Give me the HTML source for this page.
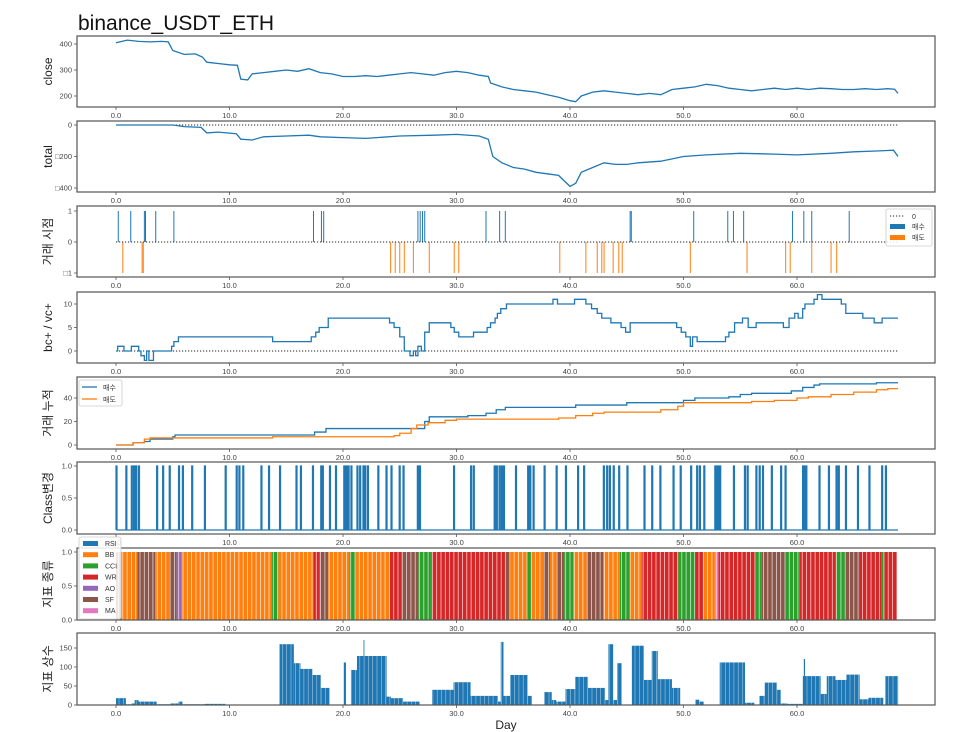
<!DOCTYPE html>
<html><head><meta charset="utf-8">
<style>
body{margin:0;background:#fff;}
svg{display:block;font-family:"Liberation Sans","Noto Sans CJK KR",sans-serif;}
</style></head>
<body>
<svg id="c" width="969" height="732" viewBox="0 0 969 732" xmlns="http://www.w3.org/2000/svg">
<text x="78" y="30" font-size="21" fill="#111">binance_USDT_ETH</text>
</svg>
<script>
// ---------- data ----------
const closeDays = [0,1,2,3,4,4.6,5,6,7,7.6,8,9,10,10.7,11,11.6,12,13,14,15,16,17,18,19,20,21,22,23,24,25,26,27,28,29,30,31,32,32.8,33,34,35,36,37,38,39,40,40.5,41,42,43,44,45,46,47,48,49,50,51,52,53,54,55,56,57,58,59,60,61,62,63,64,65,66,67,68,68.6,68.9];
const closeVals = [405,415,410,408,410,408,375,360,362,350,330,325,320,318,265,262,285,290,295,300,295,305,290,285,275,275,278,275,280,285,290,285,280,290,295,290,280,275,250,235,225,220,215,205,195,182,178,200,215,220,215,210,205,210,205,225,230,235,245,240,230,225,220,225,230,225,230,225,230,228,225,225,228,225,228,226,210];
const totalDays = [0,5,6,7.5,8,9,10.6,11,12,13,15,17,18,20,22,25,28,30,32,32.8,33.2,34,35,36,37,38,39,40,40.5,41,42,43,44,45,46,48,50,52,55,58,60,63,65,67,68.5,68.9];
const totalVals = [0,0,-10,-15,-50,-45,-55,-90,-95,-75,-70,-65,-75,-80,-85,-70,-65,-60,-70,-90,-200,-240,-270,-280,-300,-310,-320,-390,-370,-300,-270,-240,-250,-250,-240,-230,-200,-190,-180,-185,-190,-180,-170,-165,-160,-200];
const buyDays = [0.2,1.3,2.5,2.6,3.5,5.1,17.4,18.1,18.3,26.6,26.8,27.0,27.2,32.6,33.8,34.3,45.3,45.4,50.9,53.9,54.4,55.3,59.6,60.6,61.3,64.6];
const sellDays = [0.6,2.3,2.4,24.2,24.6,25.0,25.4,26.2,27.6,29.8,30.2,39.1,41.4,42.4,42.8,43.0,43.8,44.3,44.6,50.6,55.6,59.0,59.4,61.3,63.0,63.5];
const bcDays = [0,0.15,0.7,1.35,2.0,2.2,2.5,2.7,2.9,3.3,4.9,5.1,5.5,13.8,17.2,17.6,17.9,18.7,24.1,24.5,25.0,25.4,25.9,26.2,26.4,26.6,26.9,27.2,27.6,29.5,29.8,30.2,31.5,32.7,33.0,33.4,33.6,33.9,34.4,38.5,38.9,40.4,41.4,41.9,42.4,42.8,43.6,44.5,44.9,45.3,49.4,49.8,50.2,50.6,50.8,51.2,53.7,54.0,54.5,55.2,55.7,56.4,58.8,59.3,59.8,60.1,60.5,60.7,61.5,61.8,62.2,63.9,64.3,65.8,66.8,67.5,68.9];
const bcVals = [0,1,0,1,0,-1,-2,0,-2,0,1,2,3,2,3,4,5,7,6,5,3,0,-1,0,-1,1,0,4,6,5,4,3,4,5,6,7,8,9,10,11,10,11,10,9,8,7,6,5,4,6,5,4,3,1,3,2,3,4,6,7,5,6,5,7,8,7,9,10,11,12,11,10,8,7,6,7,7];
const cumBuyDays = [0,1.5,2.5,3,5,5.2,17.5,18.5,27.2,27.6,31,32.6,33.5,34.3,40.5,45,50,51,54,55,56,59.5,60.5,61.5,62,67,68.9];
const cumBuyVals = [0,2,3,5,7,8.5,11,14,20,24,25,27,30,32,34,36,38,40,41,43,44,46,49,51,52,53,53];
const cumSellDays = [0,1.5,2.5,3,13.8,24.5,25,26,26.5,27.5,29,30,39,40.5,42,43,48,49.5,50,56,58,60,61,63,65,67,68,68.9];
const cumSellVals = [0,2,5,6,7,8,10,14,17,19,21,22,23,25,27,28,30,33,36,37,38,40,41,43,45,47,48,48];
const classDays = [0,0.87,1.35,1.55,1.74,1.98,3.58,4.11,4.69,5.51,5.85,6.67,7.79,9.62,10.59,10.83,11.17,12.77,13.44,14.41,15.86,16.25,17.31,18.04,18.18,18.81,19.34,20.07,20.26,20.45,20.70,21.23,21.47,21.76,21.91,22.15,23.07,23.79,24.23,24.95,25.29,26.55,26.74,29.74,31.24,31.48,33.32,33.51,33.75,33.95,34.14,35.20,36.27,36.46,36.75,37.72,38.78,39.60,40.67,41.20,42.94,43.23,43.47,43.81,44.29,45.02,46.52,47.20,47.92,49.08,49.71,50.63,51.16,51.40,51.79,52.76,52.85,52.95,53.05,53.19,54.40,55.37,55.61,56.38,56.67,56.96,57.74,58.56,58.95,60.49,60.64,60.78,61.94,62.77,63.44,63.64,64.27,65.33,66.34,67.46,67.79];
const indStarts = [0,0.5,1.88,3.44,4.70,5.35,5.78,13.71,14.30,17.38,17.91,18.70,20.56,21.06,24.14,25.17,26.64,27.82,34.27,34.71,36.18,36.62,37.65,38.23,38.82,39.50,40.29,41.47,42.93,44.40,45.28,46.31,49.54,51.01,51.74,52.77,53.07,56.30,56.89,58.94,60.26,63.35,64.23,65.55,67.46,67.69,68.78];
const indTypes = ["SF","BB","SF","BB","SF","AO","BB","CCI","BB","WR","SF","BB","CCI","BB","WR","SF","CCI","WR","SF","BB","CCI","BB","SF","BB","SF","CCI","BB","SF","BB","CCI","BB","WR","CCI","WR","BB","MA","WR","CCI","SF","CCI","WR","CCI","SF","WR","CCI","WR"];
const indNames = ["RSI","BB","CCI","WR","AO","SF","MA"];
const indColors = ["#1f77b4","#ff7f0e","#2ca02c","#d62728","#9467bd","#8c564b","#e377c2"];
const paramStarts = [0,0.87,1.35,1.64,1.98,3.58,4.79,5.51,5.85,7.79,9.62,14.41,15.67,16.25,17.31,18.04,18.81,20.07,20.26,20.70,21.23,23.84,24.23,25.29,26.74,27.85,29.74,31.24,33.66,33.90,34.14,34.72,36.27,36.65,37.72,38.39,38.78,39.60,40.47,41.59,43.09,43.38,43.81,44.15,44.54,45.45,46.52,47.20,47.73,48.98,49.71,51.06,51.40,51.79,53.19,55.42,56.24,56.67,57.16,58.22,58.56,59.14,60.49,62.09,62.62,63.39,64.36,65.52,66.30,67.60,67.79,68.91];
const paramVals = [18,2,4,13,9,2,4,9,2,3,1,160,110,95,79,45,1,112,1,92,129,22,18,9,1,40,60,24,9,166,24,79,24,1,34,13,9,42,74,45,13,160,13,110,1,156,66,142,68,45,1,14,9,1,112,6,1,24,59,40,4,3,76,29,76,66,80,15,19,1,76];
const spikeDays = [21.8,60.6];
const spikeVals = [171,121];
const xTicks = [0,10,20,30,40,50,60];

// ---------- helpers ----------
const svg = document.getElementById('c');
const NS = 'http://www.w3.org/2000/svg';
function mk(tag, attrs, parent){const e=document.createElementNS(NS,tag);for(const k in attrs)e.setAttribute(k,attrs[k]);(parent||svg).appendChild(e);return e;}
const L=77,R=935;
const X = d => 116 + d*11.35;
function lin(v0,p0,v1,p1){return v=>p0+(v-v0)*(p1-p0)/(v1-v0);}
function stepPath(days, vals, Y){let d='M'+X(days[0])+','+Y(vals[0]);for(let i=1;i<days.length;i++){d+='H'+X(days[i])+'V'+Y(vals[i]);}return d;}
function linePath(days, vals, Y){return days.map((d,i)=>(i?'L':'M')+X(d).toFixed(1)+','+Y(vals[i]).toFixed(1)).join('');}

const panels = [
 {name:'close',top:36,bot:107,label:'close',Y:lin(400,44,200,96),ticks:[[400,'400'],[300,'300'],[200,'200']]},
 {name:'total',top:121,bot:192,label:'total',Y:lin(0,125,-400,188),ticks:[[0,'0'],[-200,'□200'],[-400,'□400']]},
 {name:'trade-points',top:206,bot:277,label:'거래 시점',Y:lin(1,211,0,242),ticks:[[1,'1'],[0,'0'],[-1,'□1']]},
 {name:'bc-vc',top:292,bot:363,label:'bc+ / vc+',Y:lin(10,304,0,351),ticks:[[10,'10'],[5,'5'],[0,'0']]},
 {name:'cumulative-trades',top:377,bot:449,label:'거래 누적',Y:lin(40,398,0,445),ticks:[[40,'40'],[20,'20'],[0,'0']]},
 {name:'class-change',top:462,bot:534,label:'Class변경',Y:lin(1,466,0,530),ticks:[[1,'1.0'],[0.5,'0.5'],[0,'0.0']]},
 {name:'indicator-type',top:548,bot:620,label:'지표 종류',Y:lin(1,552,0,620),ticks:[[1,'1.0'],[0.5,'0.5'],[0,'0.0']]},
 {name:'indicator-param',top:633,bot:705,label:'지표 상수',Y:lin(150,648,0,705),ticks:[[150,'150'],[100,'100'],[50,'50'],[0,'0']]}
];
panels.forEach(p=>{
  const g = mk('g',{});
  
  
  p.g=g;
});

const blue='#1f77b4', orange='#ff7f0e';
let P=panels[0];
let e=mk('path',{d:linePath(closeDays,closeVals,P.Y),fill:'none',stroke:blue,'stroke-width':1.3},P.g);



P=panels[1];
e=mk('line',{x1:X(0),x2:X(68.9),y1:P.Y(0),y2:P.Y(0),stroke:'#222','stroke-dasharray':'1.2,1.8','stroke-width':1},P.g);


e=mk('path',{d:linePath(totalDays,totalVals,P.Y),fill:'none',stroke:blue,'stroke-width':1.3},P.g);



P=panels[2];
buyDays.forEach(d=>{
  const l=mk('line',{x1:X(d),x2:X(d),y1:P.Y(0),y2:P.Y(1),stroke:blue,'stroke-width':1},P.g);
  
  
});
sellDays.forEach(d=>{
  const l=mk('line',{x1:X(d),x2:X(d),y1:P.Y(0),y2:P.Y(-1),stroke:orange,'stroke-width':1},P.g);
  
  
});
e=mk('line',{x1:X(0),x2:X(68.9),y1:P.Y(0),y2:P.Y(0),stroke:'#222','stroke-dasharray':'1.2,1.8','stroke-width':1},P.g);



P=panels[3];
e=mk('line',{x1:X(0),x2:X(68.9),y1:P.Y(0),y2:P.Y(0),stroke:'#222','stroke-dasharray':'1.2,1.8','stroke-width':1},P.g);


e=mk('path',{d:stepPath(bcDays,bcVals,P.Y),fill:'none',stroke:blue,'stroke-width':1.3},P.g);



P=panels[4];
e=mk('path',{d:stepPath(cumBuyDays,cumBuyVals,P.Y),fill:'none',stroke:blue,'stroke-width':1.3},P.g);


e=mk('path',{d:stepPath(cumSellDays,cumSellVals,P.Y),fill:'none',stroke:orange,'stroke-width':1.3},P.g);



P=panels[5];
{let d='M'+X(0)+','+P.Y(0);classDays.forEach(t=>{d+='L'+X(t)+','+P.Y(0)+'L'+X(t)+','+P.Y(1)+'L'+(X(t)+1)+','+P.Y(1)+'L'+(X(t)+1)+','+P.Y(0);});d+='L'+X(68.9)+','+P.Y(0);
e=mk('path',{d:d,fill:'none',stroke:blue,'stroke-width':1.2},P.g);

}

P=panels[6];
for(let i=0;i<indTypes.length;i++){
  const x0=X(indStarts[i]), x1=X(indStarts[i+1]);
  const r=mk('rect',{x:x0,y:P.Y(1),width:Math.max(0.5,x1-x0),height:P.Y(0)-P.Y(1),fill:indColors[indNames.indexOf(indTypes[i])]},P.g);
  
  
}
for(let x=X(0)+2.5;x<X(68.78);x+=4.3){
  mk('line',{x1:x.toFixed(1),x2:x.toFixed(1),y1:P.Y(1),y2:P.Y(0),stroke:'#fff','stroke-width':0.8,'stroke-opacity':0.75},P.g);
}

P=panels[7];
for(let i=0;i<paramVals.length;i++){
  const x0=X(paramStarts[i]), x1=X(paramStarts[i+1]);
  const r=mk('rect',{x:x0,y:P.Y(paramVals[i]),width:Math.max(0.5,x1-x0),height:P.Y(0)-P.Y(paramVals[i]),fill:blue},P.g);
  
  
}
spikeDays.forEach((d,i)=>{
  const r=mk('rect',{x:X(d),y:P.Y(spikeVals[i]),width:1.2,height:P.Y(0)-P.Y(spikeVals[i]),fill:blue},P.g);
  
  
});
for(let x=X(0)+3;x<X(68.9);x+=4.3){
  mk('line',{x1:x.toFixed(1),x2:x.toFixed(1),y1:P.Y(175),y2:P.Y(0),stroke:'#fff','stroke-width':0.6,'stroke-opacity':0.6},P.g);
}

panels.forEach(p=>{
  const f=mk('rect',{x:L,y:p.top,width:R-L,height:p.bot-p.top,fill:'none',stroke:'#555','stroke-width':1.2},p.g);
  
  
  p.ticks.forEach(t=>{
    const y=p.Y(t[0]);
    mk('line',{x1:L-3,x2:L,y1:y,y2:y,stroke:'#555','stroke-width':0.8},p.g);
    const tx=mk('text',{x:L-5,y:y+2.5,'font-size':7.5,fill:'#444','text-anchor':'end'},p.g);
    tx.textContent=t[1];
    
    
  });
  xTicks.forEach(t=>{
    const x=X(t);
    mk('line',{x1:x,x2:x,y1:p.bot,y2:p.bot+3,stroke:'#555','stroke-width':0.8},p.g);
    const tx=mk('text',{x:x,y:p.bot+11,'font-size':7.5,fill:'#444','text-anchor':'middle'},p.g);
    tx.textContent=t.toFixed(1);
    
    
  });
  const cy=(p.top+p.bot)/2;
  const yl=mk('text',{x:0,y:0,'font-size':12,fill:'#222','text-anchor':'middle',transform:`translate(52,${cy}) rotate(-90)`},p.g);
  yl.textContent=p.label;
  
  
});
e=mk('text',{x:506,y:729,'font-size':12,fill:'#222','text-anchor':'middle'});
e.textContent='Day';



{const g=mk('g',{});


mk('rect',{x:886,y:209,width:46,height:37,fill:'#fff','fill-opacity':0.85,stroke:'#ccc','stroke-width':0.8,rx:2},g);
mk('line',{x1:890,x2:905,y1:216,y2:216,stroke:'#222','stroke-dasharray':'1.2,1.8'},g);
let t=mk('text',{x:912,y:219,'font-size':7,fill:'#333'},g);t.textContent='0';
mk('rect',{x:890,y:224,width:15,height:5,fill:blue},g);
t=mk('text',{x:912,y:229,'font-size':7,fill:'#333'},g);t.textContent='매수';
mk('rect',{x:890,y:235,width:15,height:5,fill:orange},g);
t=mk('text',{x:912,y:240,'font-size':7,fill:'#333'},g);t.textContent='매도';}

{const g=mk('g',{});


mk('rect',{x:79,y:380,width:43,height:26,fill:'#fff','fill-opacity':0.85,stroke:'#ccc','stroke-width':0.8,rx:2},g);
mk('line',{x1:82,x2:97,y1:387,y2:387,stroke:blue,'stroke-width':1.3},g);
let t=mk('text',{x:103,y:390,'font-size':7,fill:'#333'},g);t.textContent='매수';
mk('line',{x1:82,x2:97,y1:399,y2:399,stroke:orange,'stroke-width':1.3},g);
t=mk('text',{x:103,y:402,'font-size':7,fill:'#333'},g);t.textContent='매도';}

{const g=mk('g',{});


mk('rect',{x:79,y:537,width:42,height:82,fill:'#fff','fill-opacity':0.85,stroke:'#ccc','stroke-width':0.8,rx:2},g);
indNames.forEach((n,i)=>{
  const y=541+i*11.2;
  mk('rect',{x:83,y:y,width:15,height:5,fill:indColors[i]},g);
  const t=mk('text',{x:105,y:y+5,'font-size':7,fill:'#333'},g);t.textContent=n;
  
  
});}
</script>
</body></html>
